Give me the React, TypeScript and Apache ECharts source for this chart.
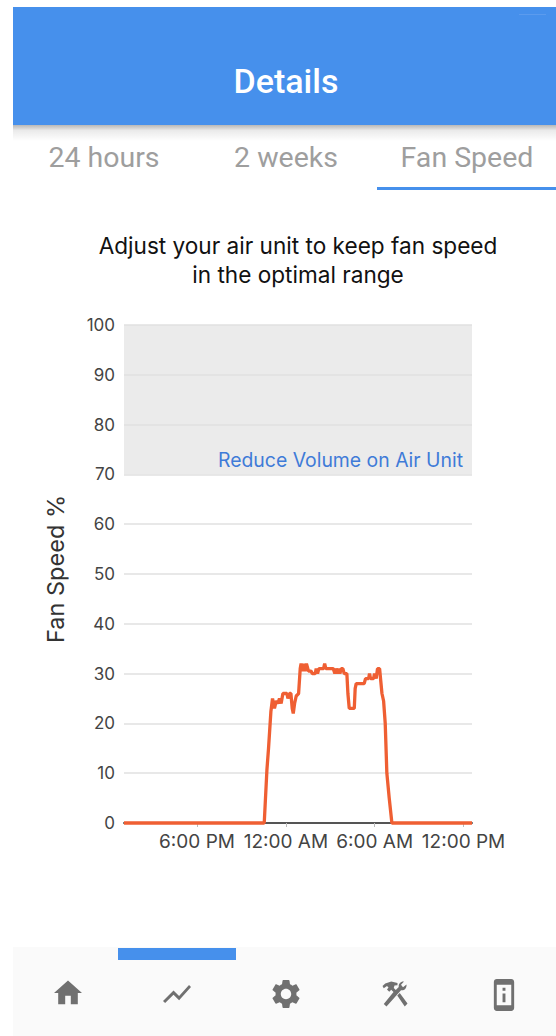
import React, { useEffect, useRef } from "react";
import * as echarts from "echarts";

const hours = [13.07, 22.54, 22.72, 22.83, 22.99, 23.1, 23.23, 23.35, 23.46, 23.57, 23.68, 23.8, 24.07, 24.14, 24.25, 24.34, 24.43, 24.5, 24.59, 24.7, 24.86, 24.97, 25.03, 25.12, 25.24, 25.3, 25.39, 25.53, 25.71, 25.78, 25.98, 26.05, 26.14, 26.23, 26.55, 26.62, 26.7, 27.2, 27.31, 27.4, 27.51, 27.58, 27.65, 27.74, 27.85, 27.94, 28.12, 28.19, 28.28, 28.62, 28.68, 28.75, 29.29, 29.38, 29.59, 29.65, 29.72, 29.92, 29.99, 30.1, 30.19, 30.33, 30.49, 30.6, 30.71, 30.82, 30.98, 31.16, 36.57];
const fanSpeed = [0, 0, 10.6, 15, 22.4, 25, 23, 24.5, 24, 25, 24, 26, 26, 25, 26, 26, 23, 22, 24, 25.5, 26, 31, 32, 30.5, 32, 30.5, 32, 30.5, 30.5, 30, 30, 31, 30, 31, 31, 32, 31, 31, 30, 31, 30, 31, 30, 31, 31, 30, 30, 26, 23, 23, 27, 28, 28, 29, 29, 30, 29, 29, 30, 29, 31, 31, 26, 24.5, 20, 10, 5, 0, 0];
const tickHours = [18, 24, 30, 36];
const tickLabels = ["6:00 PM", "12:00 AM", "6:00 AM", "12:00 PM"];
const tabs = ["24 hours", "2 weeks", "Fan Speed"];
const titleText = "Adjust your air unit to keep fan speed\nin the optimal range";
const bandText = "Reduce Volume on Air Unit";

const ICONS: Record<string, string> = {
  navHome: "M10 20v-6h4v6h5v-8h3L12 3 2 12h3v8z",
  navChart: "M3.5 18.49l6-6.01 4 4L22 6.92l-1.41-1.41-7.09 7.97-4-4L2 16.99z",
  navGear: "M19.14 12.94c.04-.3.06-.61.06-.94 0-.32-.02-.64-.07-.94l2.03-1.58c.18-.14.23-.41.12-.61l-1.92-3.32c-.12-.22-.37-.29-.59-.22l-2.39.96c-.5-.38-1.03-.7-1.62-.94l-.36-2.54c-.04-.24-.24-.41-.48-.41h-3.84c-.24 0-.43.17-.47.41l-.36 2.54c-.59.24-1.13.57-1.62.94l-2.39-.96c-.22-.08-.47 0-.59.22L2.74 8.87c-.12.21-.08.47.12.61l2.03 1.58c-.05.3-.09.63-.09.94s.02.64.07.94l-2.03 1.58c-.18.14-.23.41-.12.61l1.92 3.32c.12.22.37.29.59.22l2.39-.96c.5.38 1.03.7 1.62.94l.36 2.54c.05.24.24.41.48.41h3.84c.24 0 .44-.17.47-.41l.36-2.54c.59-.24 1.13-.56 1.62-.94l2.39.96c.22.08.47 0 .59-.22l1.92-3.32c.12-.22.07-.47-.12-.61l-2.01-1.58zM12 15.6c-1.98 0-3.6-1.62-3.6-3.6s1.62-3.6 3.6-3.6 3.6 1.62 3.6 3.6-1.62 3.6-3.6 3.6z",
  navTools: "M4.2 3.5 L9 2 L14 3.2 L14 5 L11.6 5.2 L11 7.2 L12.6 8.8 L15 6.4 C14.6 4 16.4 1.8 19.2 2 L16.8 4.6 L18.4 6.6 L21.2 4.4 C21.6 7.4 19.2 9.6 16.8 9 L5.2 22 L3 20 L10.8 10.4 L9 8.6 L7.4 10.2 L5.6 8.4 L6.8 6.8 L5.6 5.6 L3 7.4 L2 5.6 Z M13.8 13.2 L15.8 11.2 L22 19.6 L19.8 22 Z",
  navPhone: "M17 1.01L7 1c-1.1 0-2 .9-2 2v18c0 1.1.9 2 2 2h10c1.1 0 2-.9 2-2V3c0-1.1-.9-1.99-2-1.99zM17 19H7V5h10v14zM11 7h2v2h-2zM11 11h2v6h-2z",
};
Object.keys(ICONS).forEach((k) => {
  echarts.graphic.registerShape(k, echarts.graphic.extendPath(ICONS[k], {}) as any);
});

const BLUE = "#4690ec";
const LABEL = "#444444";
const UI = "Inter, sans-serif";

export default function App() {
  const ref = useRef<HTMLDivElement>(null);
  useEffect(() => {
    document.body.style.margin = "0";
    const chart = echarts.init(ref.current!, null, { renderer: "svg" });
    const tabX = [104, 286, 467];
    const icon = (type: string, cx: number, cy: number, s: number) => ({
      type, x: cx - 12 * s, y: cy - 12 * s, scaleX: s, scaleY: s, z: 10,
      style: { fill: "#707070" },
    });
    chart.setOption({
      animation: false,
      backgroundColor: "#ffffff",
      title: {
        text: titleText, left: 293, top: 226, textAlign: "center",
        textStyle: { fontFamily: UI, fontWeight: 400, fontSize: 22.6, lineHeight: 29, color: "#111111" },
      },
      grid: { left: 124, top: 325, width: 348, height: 498 },
      xAxis: {
        type: "value", min: hours[0], max: hours[hours.length - 1], z: 2,
        splitLine: { show: false },
        axisLine: { lineStyle: { color: "#555555", width: 2 } },
        axisTick: { customValues: tickHours, length: 4, lineStyle: { color: "#bbbbbb", width: 1 } },
        axisLabel: {
          customValues: tickHours, hideOverlap: false, margin: 9,
          formatter: (v: number) => tickLabels[tickHours.indexOf(v)] ?? "",
          fontFamily: UI, fontSize: 19, color: LABEL,
        },
      },
      yAxis: {
        type: "value", min: 0, max: 100, interval: 10, z: 1,
        name: "Fan Speed %", nameLocation: "middle", nameGap: 57, nameRotate: 90,
        nameTextStyle: { fontFamily: UI, fontSize: 23.5, color: "#333333", padding: [0, 0, 0, 10] },
        axisLine: { show: false }, axisTick: { show: false },
        axisLabel: { margin: 9, fontFamily: UI, fontSize: 17, color: LABEL },
        splitLine: { lineStyle: { color: "#e0e0e0", width: 1.5 } },
      },
      series: [{
        type: "line", z: 5, data: hours.map((h, i) => [h, fanSpeed[i]]),
        showSymbol: false, smooth: false, clip: false,
        lineStyle: { color: "#ef5f33", width: 3.3 },
        markArea: {
          z: 0, silent: true,
          itemStyle: { color: "#ebebeb" },
          label: {
            show: true, position: "insideBottomRight", distance: 5, offset: [-4, 0], formatter: bandText,
            fontFamily: UI, fontSize: 19.4, color: "#3f7bd8",
          },
          data: [[{ yAxis: 70 }, { yAxis: 100 }]],
        },
      }],
      graphic: [
        { type: "rect", shape: { x: 13, y: 125, width: 543, height: 16 }, z: 8,
          style: { fill: { type: "linear", x: 0, y: 0, x2: 0, y2: 1, colorStops: [
            { offset: 0, color: "rgba(0,0,0,0.28)" }, { offset: 0.35, color: "rgba(0,0,0,0.08)" }, { offset: 1, color: "rgba(0,0,0,0)" },
          ] } } },
        { type: "rect", shape: { x: 13, y: 7, width: 543, height: 118 }, z: 9, style: { fill: BLUE } },
        { type: "rect", shape: { x: 519, y: 14, width: 27, height: 1 }, z: 10, style: { fill: "#5b9bee" } },
        { type: "text", x: 286, y: 81, z: 10, style: { text: "Details", align: "center", verticalAlign: "middle", fontFamily: "Roboto, sans-serif", fontSize: 34, fontWeight: 500, fill: "#ffffff" } },
        ...tabs.map((t, i) => ({
          type: "text", x: tabX[i], y: 157, z: 10,
          style: { text: t, align: "center", verticalAlign: "middle", fontFamily: "Roboto, sans-serif", fontSize: 28.5, fontWeight: 400, fill: "#9e9e9e" },
        })),
        { type: "rect", shape: { x: 377, y: 187, width: 179, height: 3 }, z: 10, style: { fill: BLUE } },
        { type: "rect", shape: { x: 13, y: 947, width: 543, height: 89 }, z: 9, style: { fill: "#fafafa" } },
        { type: "rect", shape: { x: 118, y: 948, width: 118, height: 12 }, z: 10, style: { fill: BLUE } },
        icon("navHome", 68, 993, 1.4),
        icon("navChart", 177, 994, 1.4),
        icon("navGear", 286, 994, 1.45),
        icon("navTools", 395, 994, 1.25),
        icon("navPhone", 504, 995, 1.45),
      ],
    });
    return () => chart.dispose();
  }, []);
  return <div ref={ref} style={{ position: "fixed", left: 0, top: 0, width: 556, height: 1036 }} />;
}
